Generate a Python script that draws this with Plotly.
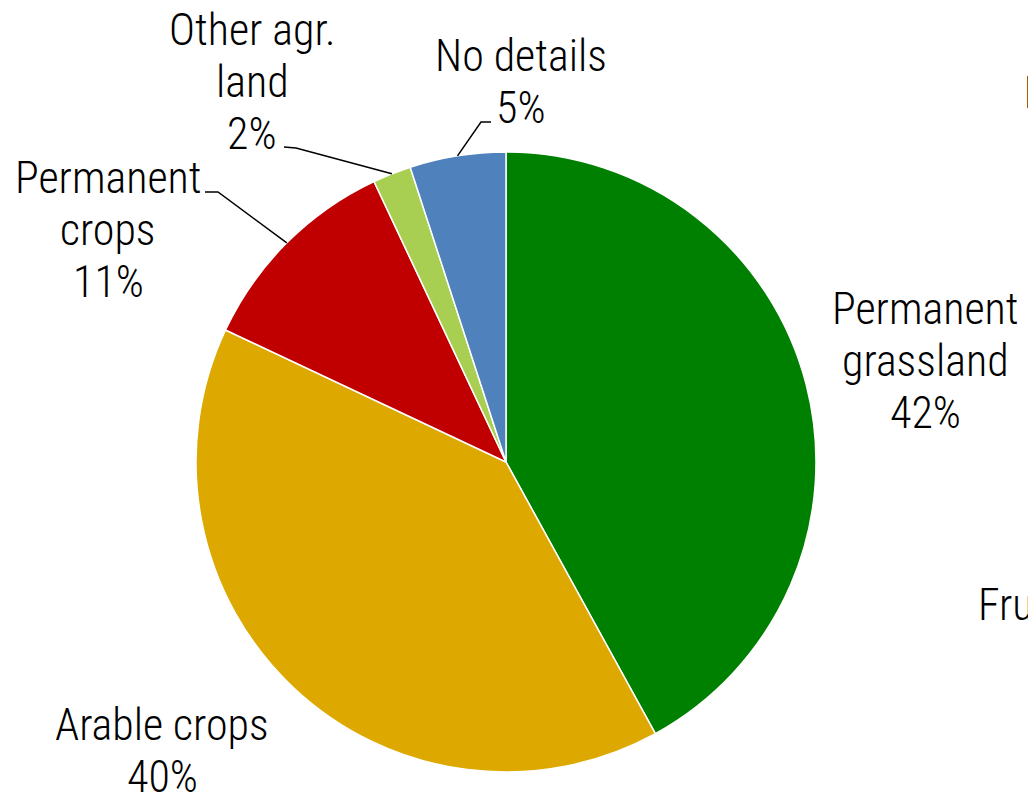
import math
import plotly.graph_objects as go

# ---- data ----
categories = ["Permanent grassland", "Arable crops", "Permanent crops", "Other agr. land", "No details"]
shares = [42, 40, 11, 2, 5]
colors = ["#008000", "#DDA800", "#C00000", "#A9CF52", "#4F81BD"]
label_lines = [["Permanent", "grassland", "42%"],
               ["Arable crops", "40%"],
               ["Permanent", "crops", "11%"],
               ["Other agr.", "land", "2%"],
               ["No details", "5%"]]

W, H = 1028, 795
CX, CY, R = 506, 462, 310
FONT = "Roboto Condensed, Liberation Sans Narrow, sans-serif"
FS = 44
LINE = 52

# label layout (pixel positions of first line centre)
label_pos = [(925, 309), (162, 725), (108, 178), (252, 30), (521, 56)]
# leader line start points (pixel), None = no leader
leader_start = [None, None, [(205, 192), (218, 192)], [(284, 147), (296, 148)], [(491, 122), (481, 122)]]

fig = go.Figure(go.Pie(
    labels=categories, values=shares, sort=False, direction="clockwise", rotation=0,
    marker=dict(colors=colors, line=dict(color="white", width=1.5)),
    textinfo="none", hoverinfo="label+percent", showlegend=False,
    domain=dict(x=[(CX - R) / W, (CX + R) / W], y=[(H - CY - R) / H, (H - CY + R) / H]),
))

def px(x):
    return x / W

def py(y):
    return 1 - y / H

annotations = []
for lines, (x0, y0) in zip(label_lines, label_pos):
    for i, t in enumerate(lines):
        annotations.append(dict(x=px(x0), y=py(y0 + i * LINE), xref="paper", yref="paper",
                                text=t, showarrow=False, xanchor="center", yanchor="middle",
                                font=dict(family=FONT, size=FS, color="black", weight=300)))

# cropped labels of a neighbouring chart at the right edge
annotations.append(dict(x=px(1022), y=py(93), xref="paper", yref="paper", text="Herbs",
                        showarrow=False, xanchor="left", yanchor="middle",
                        font=dict(family=FONT, size=FS, color="black", weight=400)))
annotations.append(dict(x=px(976), y=py(605), xref="paper", yref="paper", text="Fruit",
                        showarrow=False, xanchor="left", yanchor="middle",
                        font=dict(family=FONT, size=FS, color="black", weight=300)))

shapes = []
total = sum(shares)
cum = 0
for v, ls in zip(shares, leader_start):
    mid = (cum + v / 2) / total * 2 * math.pi
    cum += v
    if ls is None:
        continue
    ex = CX + R * math.sin(mid)
    ey = CY - R * math.cos(mid)
    pts = ls + [(ex, ey)]
    path = "M " + " L ".join(f"{px(a)},{py(b)}" for a, b in pts)
    shapes.append(dict(type="path", path=path, xref="paper", yref="paper",
                       line=dict(color="black", width=1.5)))

fig.update_layout(width=W, height=H, margin=dict(l=0, r=0, t=0, b=0),
                  paper_bgcolor="white", plot_bgcolor="white",
                  annotations=annotations, shapes=shapes)

fig.write_html("out.html", config={"displayModeBar": False},
               post_script="document.body.style.margin='0px';")
